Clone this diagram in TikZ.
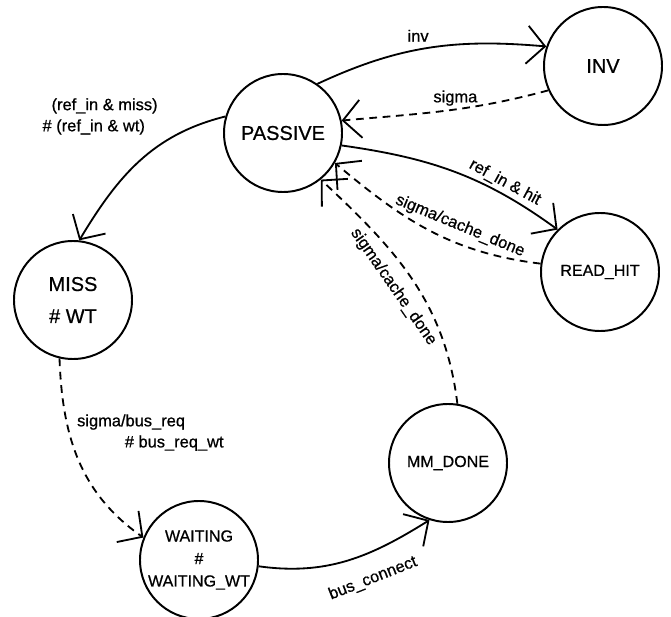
\documentclass[tikz,border=0pt]{standalone}
\usepackage{fontspec}
\newfontfamily\scanfont{Liberation Sans}[FakeBold=0.7]
\usetikzlibrary{arrows.meta}

\begin{document}
\begin{tikzpicture}[
  state/.style = {circle, draw, line width=1.4pt, minimum size=2.95cm,
    inner sep=0pt, align=center, font=\scanfont\fontsize{14.2}{22.8}\selectfont},
  smallstate/.style = {state, font=\scanfont\fontsize{11.4}{16}\selectfont},
  arrow/.style = {-{Straight Barb[length=4.5mm, width=9.5mm]}, line width=1.3pt},
  back/.style = {arrow, dash pattern=on 5.5pt off 4pt},
  lbl/.style = {font=\scanfont\fontsize{11.7}{15}\selectfont, inner sep=2pt}
]
\useasboundingbox (0,0) rectangle (16.775,-15.425);

% States
\node[state] (passive) at (7.075,-3.325) {PASSIVE};
\node[state] (inv) at (15.075,-1.65) {INV};
\node[smallstate] (readhit) at (15.0,-6.8) {READ\_HIT};
\node[state] (miss) at (1.825,-7.5) {MISS\\\# WT};
\node[smallstate] (waiting) at (4.975,-14.0) {WAITING\\\#\\WAITING\_WT};
\node[smallstate] (mmdone) at (11.2,-11.575) {MM\_DONE};

% Transitions out of PASSIVE (solid)
\draw[arrow] (passive.55) to[out=25, in=175]
  node[lbl, pos=0.45, above=3pt] {inv} (inv.161);
\draw[arrow] (passive.-12) to[out=-8, in=144]
  node[lbl, pos=0.72, sloped, above] {ref\_in \& hit} (readhit.135);
\draw[arrow] (passive.164) to[out=194, in=59]
  node[lbl, at start, anchor=east, xshift=-1.6cm, align=left]
  {\hspace*{0.55em}(ref\_in \& miss)\\\# (ref\_in \& wt)} (miss.84);

% Returns to PASSIVE (dashed)
\draw[back] (inv.204) to[out=195, in=5]
  node[lbl, pos=0.45, above] {sigma} (passive.12);
\draw[back] (readhit.172) to[out=173, in=-40]
  node[lbl, pos=0.38, sloped, above=4pt] {sigma/cache\_done} (passive.-30);
\draw[back] (mmdone.81) to[out=97, in=-43]
  node[lbl, pos=0.52, sloped, below=6pt] {sigma/cache\_done} (passive.-51);

% Miss handling
\draw[back] (miss.257) to[out=-88, in=145]
  node[lbl, pos=0.35, right=3pt, align=left]
  {sigma/bus\_req\\\hspace*{2.9em}\# bus\_req\_wt} (waiting.158);
\draw[arrow] (waiting.-6) to[out=-8, in=212]
  node[lbl, pos=0.6, sloped, below=10pt] {bus\_connect} (mmdone.252);
\end{tikzpicture}
\end{document}
